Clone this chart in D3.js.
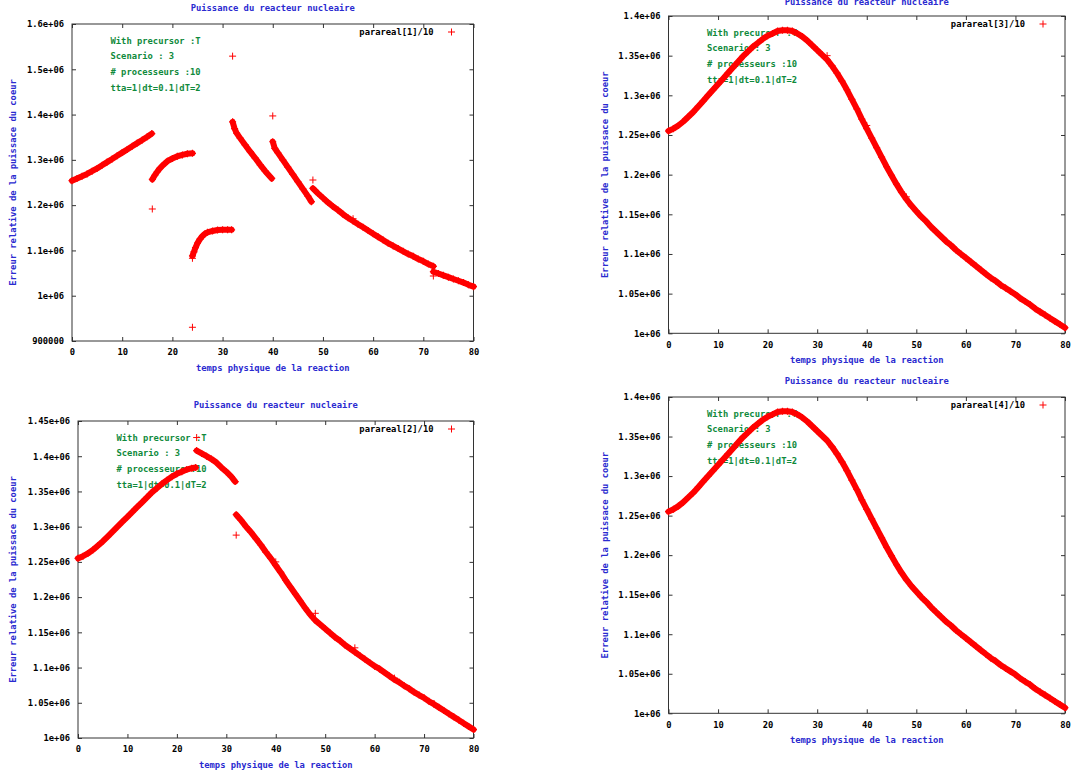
<!DOCTYPE html>
<html><head><meta charset="utf-8">
<script src="https://cdn.jsdelivr.net/npm/d3@7"></script>
<style>
body{margin:0;background:#fff}
svg{display:block}
text{font-family:"DejaVu Sans Mono","Liberation Mono",monospace;font-weight:bold;font-size:8.8px}
</style>
</head><body>
<svg id="c" width="1071" height="773"></svg>
<script>
// ---------------- DATA ----------------
const xTicks = [0,10,20,30,40,50,60,70,80];
const yTicksA = [900000,1000000,1100000,1200000,1300000,1400000,1500000,1600000];
const yLabelsA = ["900000","1e+06","1.1e+06","1.2e+06","1.3e+06","1.4e+06","1.5e+06","1.6e+06"];
const yTicksB = [1000000,1050000,1100000,1150000,1200000,1250000,1300000,1350000,1400000];
const yLabelsB = ["1e+06","1.05e+06","1.1e+06","1.15e+06","1.2e+06","1.25e+06","1.3e+06","1.35e+06","1.4e+06"];
const yTicksC = [1000000,1050000,1100000,1150000,1200000,1250000,1300000,1350000,1400000,1450000];
const yLabelsC = ["1e+06","1.05e+06","1.1e+06","1.15e+06","1.2e+06","1.25e+06","1.3e+06","1.35e+06","1.4e+06","1.45e+06"];

const titleText = "Puissance du reacteur nucleaire";
const xLabelText = "temps physique de la reaction";
const yLabelText = "Erreur relative de la puissace du coeur";
const noteLines = ["With precursor :T","Scenario : 3","# processeurs :10","tta=1|dt=0.1|dT=2"];
const legendNames = ["parareal[1]/10","parareal[3]/10","parareal[2]/10","parareal[4]/10"];

// iteration 1 (top-left): segments [t, value]
const it1SegA = [[0,1.254e6],[1,1.259e6],[2,1.264e6],[3,1.269e6],[4,1.275e6],[5,1.281e6],[6,1.288e6],[7,1.295e6],[8,1.302e6],[9,1.309e6],[10,1.316e6],[11,1.323e6],[12,1.330e6],[13,1.337e6],[14,1.344e6],[15,1.351e6],[15.9,1.358e6]];
const it1SegB = [[16,1.257e6],[16.5,1.266e6],[17,1.274e6],[17.5,1.281e6],[18,1.287e6],[19,1.297e6],[20,1.303e6],[21,1.308e6],[22,1.311e6],[23,1.3135e6],[24,1.3145e6]];
const it1SegC = [[24,1.088e6],[24.3,1.097e6],[24.6,1.106e6],[25,1.116e6],[25.5,1.125e6],[26,1.132e6],[26.5,1.137e6],[27,1.140e6],[28,1.143e6],[29,1.145e6],[30,1.1455e6],[31,1.1455e6],[31.8,1.1455e6]];
const it1SegD = [[32,1.384e6],[32.4,1.369e6],[32.8,1.359e6],[33.5,1.348e6],[34.5,1.333e6],[35.5,1.318e6],[36.5,1.304e6],[37.5,1.289e6],[38.5,1.275e6],[39.8,1.259e6]];
const it1SegE = [[40,1.340e6],[40.4,1.3255e6],[41,1.316e6],[42,1.300e6],[43,1.284e6],[44,1.268e6],[45,1.252e6],[46,1.236e6],[47,1.220e6],[47.7,1.2076e6]];
const it1SegF = [[48,1.237e6],[49,1.226e6],[50,1.216e6],[51,1.206e6],[52,1.197e6],[53,1.189e6],[54,1.180e6],[55,1.172e6],[56,1.165e6],[57,1.158e6],[58,1.151e6],[59,1.144e6],[60,1.137e6],[61,1.130e6],[62,1.123e6],[63,1.116e6],[64,1.110e6],[65,1.104e6],[66,1.098e6],[67,1.092e6],[68,1.087e6],[69,1.081e6],[70,1.076e6],[71,1.070e6],[72,1.065e6]];
const it1SegG = [[72,1.053e6],[73,1.049e6],[74,1.045e6],[75,1.041e6],[76,1.037e6],[77,1.033e6],[78,1.029e6],[79,1.024e6],[80,1.020e6]];
const it1Outliers = [[16,1.1915e6],[24,1.0826e6],[24,0.9303e6],[32,1.529e6],[40,1.397e6],[48,1.2555e6],[56,1.170e6],[72,1.0435e6]];

// iteration 2 (bottom-left)
const it2SegA = [[0,1.255e6],[1,1.258e6],[2,1.262e6],[3,1.267e6],[4,1.273e6],[5,1.279e6],[6,1.286e6],[7,1.293e6],[8,1.300e6],[9,1.307e6],[10,1.314e6],[11,1.321e6],[12,1.328e6],[13,1.335e6],[14,1.342e6],[15,1.349e6],[16,1.355e6],[17,1.361e6],[18,1.366e6],[19,1.371e6],[20,1.375e6],[21,1.378e6],[22,1.381e6],[23,1.383e6],[23.8,1.384e6]];
const it2SegB = [[24,1.408e6],[25,1.404e6],[26,1.400e6],[27,1.396e6],[28,1.391e6],[29,1.384e6],[30,1.378e6],[31,1.371e6],[31.8,1.364e6]];
const it2SegC = [[32,1.317e6],[33,1.309e6],[34,1.300e6],[35,1.292e6],[36,1.283e6],[37,1.274e6],[38,1.264e6],[39,1.255e6],[40,1.245e6],[41,1.235e6],[42,1.224e6],[43,1.214e6],[44,1.204e6],[45,1.194e6],[46,1.184e6],[47,1.175e6],[48,1.167e6],[49,1.161e6],[50,1.155e6],[51,1.149e6],[52,1.143e6],[53,1.138e6],[54,1.132e6],[55,1.127e6],[56,1.122e6],[57,1.117e6],[58,1.112e6],[59,1.107e6],[60,1.102e6],[61,1.098e6],[62,1.093e6],[63,1.088e6],[64,1.083e6],[65,1.079e6],[66,1.074e6],[67,1.070e6],[68,1.065e6],[69,1.061e6],[70,1.057e6],[71,1.052e6],[72,1.048e6],[73,1.0435e6],[74,1.039e6],[75,1.0345e6],[76,1.030e6],[77,1.0255e6],[78,1.021e6],[79,1.0165e6],[80,1.012e6]];
const it2Outliers = [[24,1.4265e6],[32,1.288e6],[40,1.250e6],[48,1.177e6],[56,1.128e6],[64,1.085e6],[72,1.049e6]];

// iteration 3 (top-right)
const it3Values = [1.255e6,1.258e6,1.262e6,1.267e6,1.273e6,1.279e6,1.286e6,1.293e6,1.300e6,1.307e6,1.314e6,1.321e6,1.328e6,1.335e6,1.342e6,1.349e6,1.355e6,1.361e6,1.366e6,1.371e6,1.375e6,1.378e6,1.381e6,1.382e6,1.382e6,1.381e6,1.378e6,1.374e6,1.369e6,1.363e6,1.357e6,1.351e6,1.345e6,1.337e6,1.328e6,1.318e6,1.307e6,1.295e6,1.283e6,1.270e6,1.258e6,1.246e6,1.234e6,1.222e6,1.210e6,1.199e6,1.188e6,1.178e6,1.169e6,1.161e6,1.154e6,1.147e6,1.141e6,1.134e6,1.128e6,1.122e6,1.116e6,1.111e6,1.105e6,1.100e6,1.095e6,1.090e6,1.085e6,1.080e6,1.075e6,1.070e6,1.066e6,1.061e6,1.057e6,1.053e6,1.049e6,1.044e6,1.040e6,1.036e6,1.031e6,1.027e6,1.023e6,1.019e6,1.015e6,1.011e6,1.007e6];
const it3Outliers = [[32,1.350e6],[40,1.262e6],[48,1.172e6]];

// iteration 4 (bottom-right)
const it4Values = [1.255e6,1.258e6,1.262e6,1.267e6,1.273e6,1.279e6,1.286e6,1.293e6,1.300e6,1.307e6,1.314e6,1.321e6,1.328e6,1.335e6,1.342e6,1.349e6,1.355e6,1.361e6,1.366e6,1.371e6,1.375e6,1.378e6,1.381e6,1.382e6,1.382e6,1.381e6,1.378e6,1.374e6,1.369e6,1.363e6,1.357e6,1.351e6,1.345e6,1.337e6,1.328e6,1.318e6,1.307e6,1.295e6,1.283e6,1.270e6,1.258e6,1.246e6,1.234e6,1.222e6,1.210e6,1.199e6,1.188e6,1.178e6,1.169e6,1.161e6,1.154e6,1.147e6,1.141e6,1.134e6,1.128e6,1.122e6,1.116e6,1.111e6,1.105e6,1.100e6,1.095e6,1.090e6,1.085e6,1.080e6,1.075e6,1.070e6,1.066e6,1.061e6,1.057e6,1.053e6,1.049e6,1.044e6,1.040e6,1.036e6,1.031e6,1.027e6,1.023e6,1.019e6,1.015e6,1.011e6,1.007e6];

// ---------------- DRAW ----------------
const svg = d3.select("#c");
const RED = "#ff0000", BLUE = "#2a2ad0", GREEN = "#108a3c", AXC = "#333";
const plusPath = "M-3.5,0H3.5M0,-3.5V3.5";
const toPairs = vals => vals.map((v,i)=>[i,v]);

const panels = [
  {l:72, r:473.5, t:24, b:341, yt:yTicksA, yl:yLabelsA, dom:[900000,1600000], legend:legendNames[0],
   segs:[it1SegA,it1SegB,it1SegC,it1SegD,it1SegE,it1SegF,it1SegG], outs:it1Outliers, ylx:13},
  {l:668.5, r:1065, t:16, b:333.3, yt:yTicksB, yl:yLabelsB, dom:[1000000,1400000], legend:legendNames[1],
   segs:[toPairs(it3Values)], outs:it3Outliers, ylx:605},
  {l:78, r:473.5, t:421, b:738, yt:yTicksC, yl:yLabelsC, dom:[1000000,1450000], legend:legendNames[2],
   segs:[it2SegA,it2SegB,it2SegC], outs:it2Outliers, ylx:13},
  {l:668.5, r:1065, t:397, b:713.3, yt:yTicksB, yl:yLabelsB, dom:[1000000,1400000], legend:legendNames[3],
   segs:[toPairs(it4Values)], outs:[], ylx:605}
];

panels.forEach(p => {
  const x = d3.scaleLinear().domain([0,80]).range([p.l,p.r]);
  const y = d3.scaleLinear().domain(p.dom).range([p.b,p.t]);
  const g = svg.append("g");

  const fmt = d => p.yl[p.yt.indexOf(d)];
  const ax = [
    g.append("g").attr("transform",`translate(0,${p.b})`).call(d3.axisBottom(x).tickValues(xTicks).tickSize(-4).tickPadding(8).tickFormat(d3.format("d"))),
    g.append("g").attr("transform",`translate(0,${p.t})`).call(d3.axisTop(x).tickValues(xTicks).tickSize(-4).tickFormat("")),
    g.append("g").attr("transform",`translate(${p.l},0)`).call(d3.axisLeft(y).tickValues(p.yt).tickSize(-4).tickPadding(8).tickFormat(fmt)),
    g.append("g").attr("transform",`translate(${p.r},0)`).call(d3.axisRight(y).tickValues(p.yt).tickSize(-4).tickFormat(""))
  ];
  ax.forEach(a => {
    a.attr("font-family",null).attr("font-size",null);
    a.select(".domain").remove();
    a.selectAll("line").attr("stroke",AXC);
    a.selectAll("text").attr("fill","#000");
  });
  g.append("rect").attr("x",p.l).attr("y",p.t).attr("width",p.r-p.l).attr("height",p.b-p.t)
    .attr("fill","none").attr("stroke",AXC).attr("stroke-width",1);

  const cx = (p.l+p.r)/2;
  g.append("text").attr("x",cx).attr("y",Math.max(p.t-16,2)).attr("dy","0.35em").attr("text-anchor","middle").attr("fill",BLUE).text(titleText);
  g.append("text").attr("x",cx).attr("y",p.b+26.5).attr("dy","0.35em").attr("text-anchor","middle").attr("fill",BLUE).text(xLabelText);
  g.append("text").attr("transform",`translate(${p.ylx},${(p.t+p.b)/2}) rotate(-90)`).attr("dy","0.35em")
    .attr("text-anchor","middle").attr("fill",BLUE).text(yLabelText);

  noteLines.forEach((s,i)=>{
    g.append("text").attr("x",p.l+38.5).attr("y",p.t+16.5+i*15.7).attr("dy","0.35em").attr("fill",GREEN).text(s);
  });

  g.append("text").attr("x",p.r-40).attr("y",p.t+8).attr("dy","0.35em").attr("text-anchor","end").attr("fill","#000").text(p.legend);
  g.append("path").attr("d",plusPath).attr("transform",`translate(${p.r-22},${p.t+8})`).attr("stroke",RED).attr("stroke-width",1).attr("fill","none");

  const line = d3.line().x(d=>x(d[0])).y(d=>y(d[1]));
  p.segs.forEach(s=>{
    g.append("path").datum(s).attr("d",line).attr("fill","none").attr("stroke",RED)
      .attr("stroke-width",6).attr("stroke-linejoin","round").attr("stroke-linecap","round");
    g.selectAll(null).data(s).enter().append("path").attr("d",plusPath)
      .attr("transform",d=>`translate(${x(d[0])},${y(d[1])})`).attr("stroke",RED).attr("stroke-width",1.2).attr("fill","none");
  });
  g.selectAll(null).data(p.outs).enter().append("path").attr("d",plusPath)
    .attr("transform",d=>`translate(${x(d[0])},${y(d[1])})`).attr("stroke",RED).attr("stroke-width",1).attr("fill","none");
});
</script>
</body></html>
